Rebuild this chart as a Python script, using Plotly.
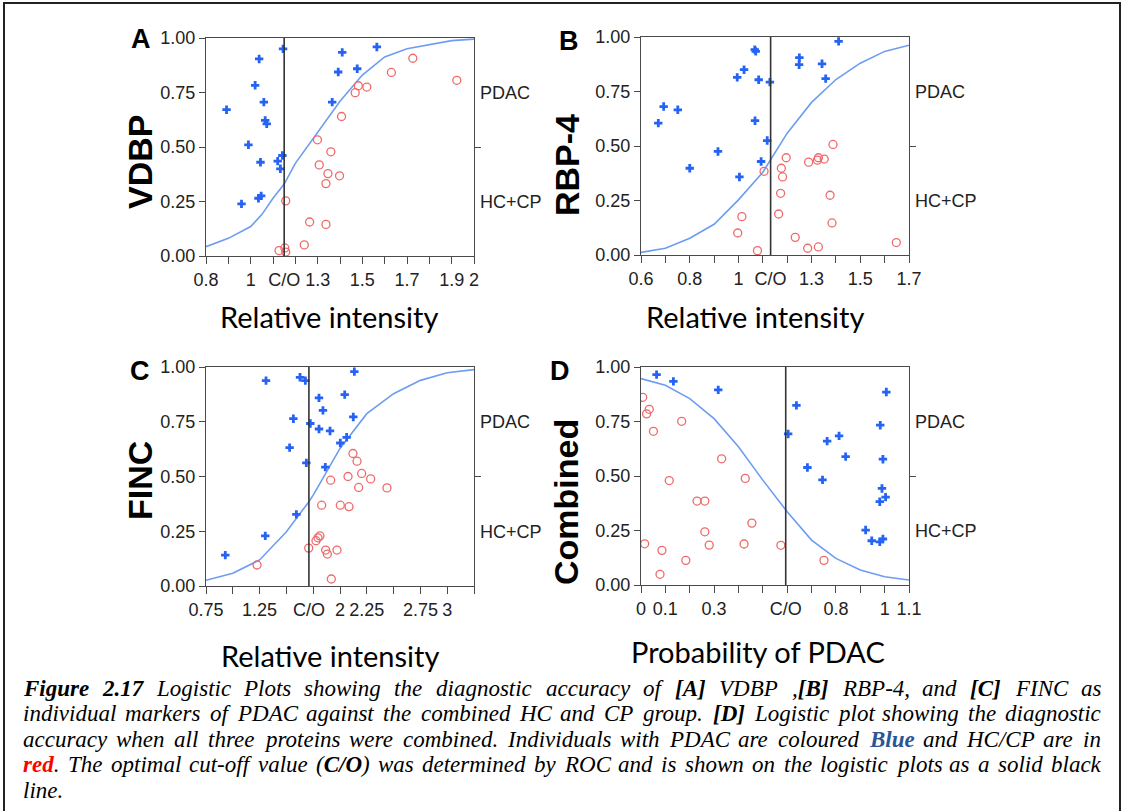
import re
import plotly.graph_objects as go

# ---------------- data ----------------
# Panel A : VDBP
A_pdac_x = [1.145, 1.038, 1.020, 0.892, 1.059, 1.065, 1.072, 0.990, 1.044, 1.121,
            1.142, 1.133, 0.959, 1.035, 1.047, 1.410, 1.565, 1.392, 1.477, 1.365]
A_pdac_y = [0.950, 0.904, 0.783, 0.671, 0.706, 0.622, 0.606, 0.510, 0.430, 0.435,
            0.461, 0.400, 0.239, 0.265, 0.276, 0.934, 0.959, 0.844, 0.859, 0.706]
A_ctrl_x = [1.726, 1.923, 1.630, 1.482, 1.520, 1.468, 1.407, 1.299, 1.359, 1.307,
            1.346, 1.337, 1.398, 1.157, 1.264, 1.337, 1.240, 1.127, 1.153, 1.157]
A_ctrl_y = [0.907, 0.806, 0.842, 0.781, 0.775, 0.749, 0.640, 0.533, 0.478, 0.418,
            0.378, 0.332, 0.368, 0.253, 0.156, 0.145, 0.051, 0.025, 0.037, 0.018]
A_curve_x = [0.8, 0.9, 1.0, 1.05, 1.1, 1.15, 1.2, 1.3, 1.4, 1.5, 1.6, 1.7, 1.8, 1.9, 2.0]
A_curve_y = [0.043, 0.081, 0.135, 0.19, 0.265, 0.33, 0.425, 0.57, 0.71, 0.83, 0.913, 0.951, 0.969, 0.988, 0.995]
A_cutoff = 1.15
A_range = [0.8, 2.0]
A_minor = [0.8, 0.9, 1.0, 1.1, 1.2, 1.3, 1.4, 1.5, 1.6, 1.7, 1.8, 1.9, 2.0]
A_tickvals = [0.8, 1.0, 1.15, 1.3, 1.5, 1.7, 1.9, 2.0]
A_ticktext = ["0.8", "1", "C/O", "1.3", "1.5", "1.7", "1.9", "2"]

# Panel B : RBP-4
B_pdac_x = [0.671, 0.693, 0.751, 0.800, 0.916, 0.995, 1.023, 1.067, 1.071, 1.083,
            1.129, 1.068, 1.118, 1.093, 1.004, 1.249, 1.250, 1.343, 1.358, 1.411]
B_pdac_y = [0.605, 0.681, 0.666, 0.398, 0.475, 0.815, 0.850, 0.942, 0.934, 0.804,
            0.793, 0.616, 0.525, 0.429, 0.358, 0.873, 0.905, 0.877, 0.809, 0.980]
B_ctrl_x = [1.105, 1.196, 1.176, 1.181, 1.173, 1.165, 1.288, 1.324, 1.328, 1.352,
            1.388, 1.376, 1.384, 1.014, 0.997, 1.078, 1.233, 1.284, 1.328, 1.648]
B_ctrl_y = [0.384, 0.446, 0.398, 0.358, 0.283, 0.188, 0.426, 0.435, 0.446, 0.440,
            0.507, 0.274, 0.147, 0.176, 0.101, 0.020, 0.081, 0.031, 0.037, 0.057]
B_curve_x = [0.6, 0.7, 0.8, 0.9, 1.0, 1.1, 1.2, 1.3, 1.4, 1.5, 1.6, 1.7]
B_curve_y = [0.012, 0.031, 0.077, 0.141, 0.253, 0.380, 0.559, 0.700, 0.805, 0.880, 0.934, 0.962]
B_cutoff = 1.132
B_range = [0.6, 1.7]
B_minor = [0.6, 0.7, 0.8, 0.9, 1.0, 1.1, 1.2, 1.3, 1.4, 1.5, 1.6, 1.7]
B_tickvals = [0.6, 0.8, 1.0, 1.132, 1.3, 1.5, 1.7]
B_ticktext = ["0.6", "0.8", "1", "C/O", "1.3", "1.5", "1.7"]

# Panel C : FINC
C_pdac_x = [0.930, 1.303, 1.310, 1.530, 1.565, 1.593, 1.627, 1.677, 1.686, 1.723,
            1.804, 1.804, 1.841, 1.863, 1.907, 2.003, 2.044, 2.062, 2.124, 2.134]
C_pdac_y = [0.141, 0.229, 0.938, 0.632, 0.764, 0.327, 0.953, 0.938, 0.562, 0.742,
            0.859, 0.717, 0.802, 0.543, 0.708, 0.653, 0.874, 0.679, 0.772, 0.979]
C_ctrl_x = [1.226, 1.708, 1.776, 1.795, 1.813, 1.829, 1.866, 1.882, 1.919, 1.913,
            1.972, 2.003, 2.075, 2.084, 2.121, 2.159, 2.174, 2.202, 2.286, 2.438]
C_ctrl_y = [0.096, 0.173, 0.207, 0.220, 0.229, 0.369, 0.164, 0.146, 0.032, 0.483,
            0.164, 0.369, 0.500, 0.362, 0.605, 0.570, 0.450, 0.514, 0.489, 0.448]
C_curve_x = [0.75, 1.0, 1.25, 1.5, 1.71, 1.75, 2.0, 2.25, 2.5, 2.75, 3.0, 3.25]
C_curve_y = [0.026, 0.058, 0.119, 0.248, 0.385, 0.415, 0.628, 0.787, 0.878, 0.939, 0.974, 0.988]
C_cutoff = 1.71
C_range = [0.75, 3.25]
C_minor = [0.75, 1.0, 1.25, 1.5, 1.75, 2.0, 2.25, 2.5, 2.75, 3.0, 3.25]
C_tickvals = [0.75, 1.25, 1.71, 2.0, 2.25, 2.75, 3.0]
C_ticktext = ["0.75", "1.25", "C/O", "2", "2.25", "2.75", "3"]

# Panel D : Combined
D_pdac_x = [0.064, 0.133, 0.317, 0.604, 0.638, 0.683, 0.745, 0.764, 0.813, 0.840,
            0.922, 0.947, 0.980, 0.980, 0.982, 0.989, 0.993, 0.993, 1.004, 1.007]
D_pdac_y = [0.965, 0.934, 0.895, 0.693, 0.824, 0.539, 0.482, 0.660, 0.684, 0.589,
            0.252, 0.203, 0.382, 0.198, 0.733, 0.443, 0.577, 0.211, 0.403, 0.885]
D_ctrl_x = [0.007, 0.034, 0.023, 0.051, 0.167, 0.116, 0.015, 0.086, 0.078, 0.184,
            0.230, 0.262, 0.262, 0.280, 0.331, 0.428, 0.423, 0.455, 0.574, 0.751]
D_ctrl_y = [0.861, 0.806, 0.785, 0.705, 0.751, 0.479, 0.189, 0.159, 0.049, 0.113,
            0.385, 0.385, 0.244, 0.183, 0.579, 0.489, 0.188, 0.284, 0.182, 0.113]
D_curve_x = [0.0, 0.1, 0.2, 0.3, 0.4, 0.5, 0.6, 0.7, 0.8, 0.9, 1.0, 1.1]
D_curve_y = [0.947, 0.916, 0.855, 0.763, 0.634, 0.481, 0.336, 0.206, 0.122, 0.069, 0.038, 0.023]
D_cutoff = 0.594
D_range = [0.0, 1.1]
D_minor = [0.0, 0.1, 0.2, 0.3, 0.4, 0.5, 0.6, 0.7, 0.8, 0.9, 1.0, 1.1]
D_tickvals = [0.0, 0.1, 0.3, 0.594, 0.8, 1.0, 1.1]
D_ticktext = ["0", "0.1", "0.3", "C/O", "0.8", "1", "1.1"]

y_tickvals = [0.0, 0.25, 0.5, 0.75, 1.0]
group_labels = ["PDAC", "HC+CP"]
group_label_pos = [0.75, 0.25]

panel_letters = ["A", "B", "C", "D"]
panel_titles = ["VDBP", "RBP-4", "FINC", "Combined"]
x_titles = ["Relative intensity", "Relative intensity", "Relative intensity", "Probability of PDAC"]

caption_lines = [
    "<b>Figure</b> <b>2.17</b> Logistic Plots showing the diagnostic accuracy of <b>[A]</b> VDBP ,<b>[B]</b> RBP-4, and <b>[C]</b> FINC as",
    "individual markers of PDAC against the combined HC and CP group. <b>[D]</b> Logistic plot showing the diagnostic",
    "accuracy when all three proteins were combined. Individuals with PDAC are coloured <span style='color:#2B5597'><b>Blue</b></span> and HC/CP are in",
    "<span style='color:#FF0000'><b>red</b></span>. The optimal cut-off value (<b>C/O</b>) was determined by ROC and is shown on the logistic plots as a solid black",
    "line.",
]

# ---------------- layout helpers ----------------
W, H = 1123, 811
def fx(px):
    return px / W
def fy(py):
    return 1 - py / H

# plot areas in pixels: left, right, top, bottom
boxes = [
    (206, 474, 38, 256),
    (641, 909, 37, 255),
    (206, 474, 367, 586),
    (641, 909, 367, 585),
]
letter_pos = [(141, 39), (569, 41), (140, 371), (560, 371)]
ytitle_pos = [(140, 162), (567, 165), (140, 481), (566, 502)]
xtitle_pos = [(329, 316), (755, 316), (330, 655), (758, 651)]

panels = [
    (A_pdac_x, A_pdac_y, A_ctrl_x, A_ctrl_y, A_curve_x, A_curve_y, A_cutoff, A_range, A_minor, A_tickvals, A_ticktext),
    (B_pdac_x, B_pdac_y, B_ctrl_x, B_ctrl_y, B_curve_x, B_curve_y, B_cutoff, B_range, B_minor, B_tickvals, B_ticktext),
    (C_pdac_x, C_pdac_y, C_ctrl_x, C_ctrl_y, C_curve_x, C_curve_y, C_cutoff, C_range, C_minor, C_tickvals, C_ticktext),
    (D_pdac_x, D_pdac_y, D_ctrl_x, D_ctrl_y, D_curve_x, D_curve_y, D_cutoff, D_range, D_minor, D_tickvals, D_ticktext),
]

BLUE = "#2563F5"
RED = "#F06A6A"
CURVE = "#6E9CF2"
AXIS = "#4a4a4a"
TICKFONT = dict(family="Liberation Sans, Arial, sans-serif", size=18, color="#222222")

fig = go.Figure()
shapes = []
annotations = []

for i, (px_, py_, cx_, cy_, lx, ly, co, xr, minor, tv, tt) in enumerate(panels):
    n = i + 1
    xa = "x" if n == 1 else f"x{n}"
    ya = "y" if n == 1 else f"y{n}"
    xkey = "xaxis" if n == 1 else f"xaxis{n}"
    ykey = "yaxis" if n == 1 else f"yaxis{n}"
    rkey = f"yaxis{n + 4}"
    l, r, t, b = boxes[i]

    fig.add_trace(go.Scatter(x=lx, y=ly, mode="lines", line=dict(color=CURVE, width=1.6),
                             xaxis=xa, yaxis=ya, showlegend=False, hoverinfo="skip"))
    fig.add_trace(go.Scatter(x=cx_, y=cy_, mode="markers",
                             marker=dict(symbol="circle-open", size=8, color=RED, line=dict(width=1.3)),
                             xaxis=xa, yaxis=ya, showlegend=False))
    fig.add_trace(go.Scatter(x=px_, y=py_, mode="markers",
                             marker=dict(symbol="cross", size=7, color=BLUE, line=dict(width=0)),
                             xaxis=xa, yaxis=ya, showlegend=False))
    # invisible trace to anchor the right-hand group axis
    fig.add_trace(go.Scatter(x=[xr[0]], y=[0.5], mode="markers", marker=dict(opacity=0),
                             xaxis=xa, yaxis=f"y{n + 4}", showlegend=False, hoverinfo="skip"))

    fig.layout[xkey] = dict(
        domain=[fx(l), fx(r)], anchor=ya, range=xr, showgrid=False, zeroline=False,
        showline=True, linecolor=AXIS, linewidth=1.4, mirror=True, automargin=False,
        tickmode="array", tickvals=tv, ticktext=tt, ticks="", tickfont=TICKFONT,
        ticklabelstandoff=7,
        minor=dict(tickmode="array", tickvals=minor, ticks="outside", ticklen=7,
                   tickcolor=AXIS, tickwidth=1.2, showgrid=False),
        fixedrange=True,
    )
    fig.layout[ykey] = dict(
        domain=[fy(b), fy(t)], anchor=xa, range=[0, 1], showgrid=False, zeroline=False,
        showline=True, linecolor=AXIS, linewidth=1.4, mirror=True, automargin=False,
        tickmode="array", tickvals=y_tickvals, tickformat=".2f",
        ticks="outside", ticklen=6, tickcolor=AXIS, tickwidth=1.2, tickfont=TICKFONT,
        fixedrange=True,
    )
    fig.layout[rkey] = dict(
        overlaying=ya, anchor=xa, side="right", range=[0, 1], showgrid=False, zeroline=False,
        showline=False, automargin=False, tickmode="array", tickvals=group_label_pos, ticktext=group_labels,
        ticks="", tickfont=TICKFONT, ticklabelstandoff=5,
        minor=dict(tickmode="array", tickvals=[0.5], ticks="outside", ticklen=6,
                   tickcolor=AXIS, tickwidth=1.2, showgrid=False),
        fixedrange=True,
    )

    # cut-off line
    shapes.append(dict(type="line", xref=xa, yref=f"{ya} domain", x0=co, x1=co, y0=0, y1=1,
                       line=dict(color="#333333", width=1.6)))

    # panel letter
    lx_, ly_ = letter_pos[i]
    annotations.append(dict(text=f"<b>{panel_letters[i]}</b>", x=fx(lx_), y=fy(ly_), xref="paper", yref="paper",
                            showarrow=False, xanchor="center", yanchor="middle",
                            font=dict(family="Liberation Sans, Arial", size=27, color="#000000")))
    # y-title
    tx, ty = ytitle_pos[i]
    annotations.append(dict(text=f"<b>{panel_titles[i]}</b>", x=fx(tx), y=fy(ty), xref="paper", yref="paper",
                            showarrow=False, xanchor="center", yanchor="middle", textangle=-90,
                            font=dict(family="Liberation Sans, Arial", size=34, color="#000000")))
    # x-title
    tx, ty = xtitle_pos[i]
    annotations.append(dict(text=x_titles[i], x=fx(tx), y=fy(ty), xref="paper", yref="paper",
                            showarrow=False, xanchor="center", yanchor="middle",
                            font=dict(family="Lato, Carlito, sans-serif", size=29, color="#000000")))

# ---------------- caption (justified, word by word) ----------------
# Times italic / bold-italic advance widths (per 1000 em)
TI = {' ': 250, 'a': 500, 'b': 500, 'c': 444, 'd': 500, 'e': 444, 'f': 278, 'g': 500, 'h': 500,
      'i': 278, 'j': 278, 'k': 444, 'l': 278, 'm': 722, 'n': 500, 'o': 500, 'p': 500, 'q': 500,
      'r': 389, 's': 389, 't': 278, 'u': 500, 'v': 444, 'w': 667, 'x': 444, 'y': 444, 'z': 389,
      'A': 611, 'B': 611, 'C': 667, 'D': 722, 'E': 611, 'F': 611, 'G': 722, 'H': 722, 'I': 333,
      'J': 444, 'K': 667, 'L': 556, 'M': 833, 'N': 667, 'O': 722, 'P': 611, 'Q': 722, 'R': 611,
      'S': 500, 'T': 556, 'U': 722, 'V': 611, 'W': 833, 'X': 611, 'Y': 556, 'Z': 556,
      '.': 250, ',': 250, '-': 333, '(': 333, ')': 333, '[': 389, ']': 389, '/': 278, '+': 675}
TBI = dict(TI)
TBI.update({'u': 556, 'A': 667, 'B': 667, 'C': 667, 'D': 722, 'F': 667, 'O': 722, '[': 333, ']': 333})

CAP_SIZE = 23
CAP_LEFT, CAP_RIGHT = 22, 1100
cap_y = [688, 713, 739, 764, 790]

def word_width(word):
    bold = False
    w = 0
    for tok in re.split(r"(<[^>]+>)", word):
        if tok.startswith("<"):
            if tok == "<b>":
                bold = True
            elif tok == "</b>":
                bold = False
            continue
        table = TBI if bold else TI
        for ch in tok:
            w += table.get(ch, 500)
    return w / 1000 * CAP_SIZE

for li, (line, yy) in enumerate(zip(caption_lines, cap_y)):
    words = re.split(r" (?![^<]*>)", line)
    widths = [word_width(w) for w in words]
    justify = li < len(caption_lines) - 1 and len(words) > 1
    if justify:
        gap = (CAP_RIGHT - CAP_LEFT - sum(widths)) / (len(words) - 1)
    else:
        gap = 0.25 * CAP_SIZE
    x = CAP_LEFT
    for w, ww in zip(words, widths):
        annotations.append(dict(text=f"<i>{w}</i>", x=fx(x), y=fy(yy), xref="paper", yref="paper",
                                showarrow=False, xanchor="left", yanchor="middle", align="left",
                                borderpad=0,
                                font=dict(family="Liberation Serif, Times New Roman, serif",
                                          size=CAP_SIZE, color="#000000")))
        x += ww + gap

# outer frame
shapes.append(dict(type="rect", xref="paper", yref="paper", x0=fx(4), x1=fx(1120), y0=fy(830), y1=fy(3),
                   line=dict(color="#222222", width=2), fillcolor="rgba(0,0,0,0)"))

fig.update_layout(
    width=W, height=H, margin=dict(l=0, r=0, t=0, b=0, autoexpand=False),
    paper_bgcolor="white", plot_bgcolor="white",
    shapes=shapes, annotations=annotations, showlegend=False,
)

fig.write_html("out.html", config={"displayModeBar": False},
               post_script="document.body.style.margin='0px';document.body.style.overflow='hidden';")
